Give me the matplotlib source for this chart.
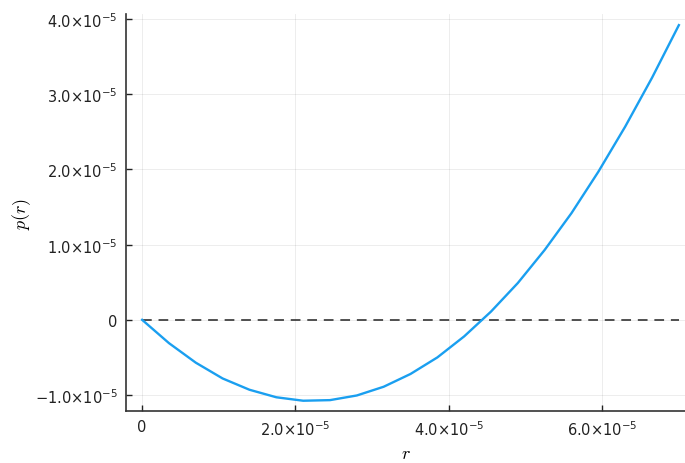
import numpy as np
import matplotlib
matplotlib.use("Agg")
import matplotlib.pyplot as plt

# valores (r e p(r))
r = np.array([0, 3.5, 7, 10.5, 14, 17.5, 21, 24.5, 28, 31.5, 35,
              38.5, 42, 45.5, 49, 52.5, 56, 59.5, 63, 66.5, 70]) * 1e-6
p = np.array([0, -0.31, -0.57, -0.78, -0.93, -1.03, -1.076, -1.068, -1.006, -0.89, -0.72,
              -0.50, -0.22, 0.11, 0.49, 0.93, 1.42, 1.97, 2.57, 3.22, 3.92]) * 1e-5

xticks = [0, 2e-5, 4e-5, 6e-5]
xlabels = ["0", r"$2.0{\times}10^{-5}$", r"$4.0{\times}10^{-5}$", r"$6.0{\times}10^{-5}$"]
yticks = [-1e-5, 0, 1e-5, 2e-5, 3e-5, 4e-5]
ylabels = [r"$-1.0{\times}10^{-5}$", "0", r"$1.0{\times}10^{-5}$", r"$2.0{\times}10^{-5}$",
           r"$3.0{\times}10^{-5}$", r"$4.0{\times}10^{-5}$"]

plt.rcParams["mathtext.fontset"] = "dejavusans"
plt.rcParams["font.family"] = "DejaVu Sans"

fig = plt.figure(figsize=(6.85, 4.64), dpi=100)
ax = fig.add_axes([0.184, 0.112, 0.816, 0.856])

ax.plot([r[0], r[-1]], [0, 0], color="#333333", ls=(0, (5, 3.5)), lw=1.4, alpha=0.85)
ax.plot(r, p, color="#1A9FF0", lw=1.7)

ax.set_xlim(-2.1e-6, 7.08e-5)
ax.set_ylim(-1.213e-5, 4.07e-5)
ax.set_xticks(xticks)
ax.set_xticklabels(xlabels)
ax.set_yticks(yticks)
ax.set_yticklabels(ylabels)
ax.tick_params(direction="in", length=4, width=1, labelsize=10.5, colors="#222222",
               pad=6)
ax.grid(True, color="#000000", alpha=0.07, lw=0.7)
for s in ["top", "right"]:
    ax.spines[s].set_visible(False)
for s in ["left", "bottom"]:
    ax.spines[s].set_color("#333333")
    ax.spines[s].set_linewidth(1.2)

ax.set_xlabel(r"$r$", fontsize=13, math_fontfamily="cm", labelpad=4)
ax.set_ylabel(r"$p(r)$", fontsize=13, math_fontfamily="cm")
ax.yaxis.set_label_coords(-0.166, 0.5)

fig.savefig("out.png")
